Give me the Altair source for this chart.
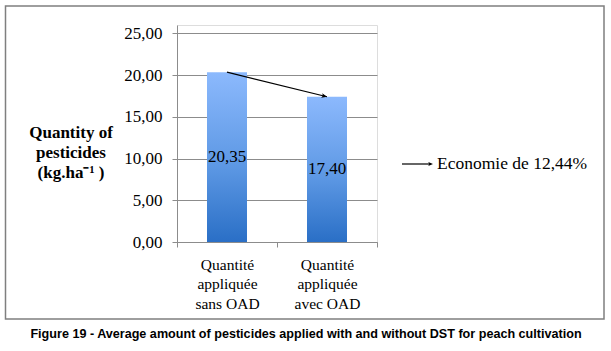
import altair as alt
import pandas as pd

# ---- data ----
categories = ["Quantité|appliquée|sans OAD", "Quantité|appliquée|avec OAD"]
values = [20.35, 17.40]
value_labels = ["20,35", "17,40"]
y_ticks = [0, 5, 10, 15, 20, 25]
y_title = ["Quantity of", "pesticides", "(kg.ha⁻¹ )"]
annotation = "Economie de 12,44%"
caption = "Figure 19 - Average amount of pesticides applied with and without DST for peach cultivation"

SERIF = "Liberation Serif"
SANS = "Liberation Sans"

df = pd.DataFrame({"cat": categories, "value": values, "label": value_labels})
df["mid"] = df["value"] / 2
arrow_df = pd.DataFrame({"x1": [categories[0]], "y1": [values[0]],
                         "x2": [categories[1]], "y2": [values[1]]})
one = alt.Data(values=[{"a": 1}])

xsc = alt.Scale(domain=categories, paddingInner=0, paddingOuter=0)
ysc = alt.Scale(domain=[0, 25])

x_axis = alt.Axis(title=None, labelAngle=0, labelExpr="split(datum.label, '|')",
                  labelFont=SERIF, labelFontSize=15.5, labelColor="black",
                  labelLineHeight=19.5, labelPadding=10, tickBand="extent",
                  tickSize=5, tickColor="#8c8c8c", domainColor="#8c8c8c", grid=False)
y_axis = alt.Axis(title=None, values=y_ticks,
                  labelExpr="replace(format(datum.value, '.2f'), '.', ',')",
                  labelFont=SERIF, labelFontSize=17, labelColor="black",
                  labelPadding=10, tickSize=5, tickColor="#8c8c8c",
                  domainColor="#8c8c8c", gridColor="#8c8c8c", grid=True)

grad = alt.Gradient(gradient="linear",
                    stops=[alt.GradientStop(color="#8cb9fd", offset=0),
                           alt.GradientStop(color="#5d98e4", offset=0.55),
                           alt.GradientStop(color="#2a6fc6", offset=1)],
                    x1=0, x2=0, y1=0, y2=1)

bars = alt.Chart(df).mark_bar(size=40, color=grad).encode(
    x=alt.X("cat:N", scale=xsc, axis=x_axis, sort=categories),
    y=alt.Y("value:Q", scale=ysc, axis=y_axis),
)

labels = alt.Chart(df).mark_text(font=SERIF, fontSize=17, color="black",
                                 baseline="middle").encode(
    x=alt.X("cat:N", sort=categories), y="mid:Q", text="label:N")

arrow_line = alt.Chart(arrow_df).mark_rule(color="black", strokeWidth=1.2).encode(
    x=alt.X("x1:N", sort=categories), x2="x2:N", y="y1:Q", y2="y2:Q")

head_shape = "M0,0 L-1,-0.42 L-0.78,0 L-1,0.42 Z"
arrow_head = alt.Chart(arrow_df).mark_point(shape=head_shape, filled=True, size=120,
                                            color="black", opacity=1, angle=14.4).encode(
    x=alt.X("x2:N", sort=categories), y="y2:Q")

ytitle = alt.Chart(one).mark_text(text=y_title, font=SERIF, fontSize=17, fontWeight="bold",
                                  color="black", align="center", baseline="middle",
                                  lineHeight=20).encode(
    x=alt.value(-106), y=alt.value(108))

eco_line = alt.Chart(one).mark_rule(color="black", strokeWidth=1.2).encode(
    x=alt.value(225), x2=alt.value(253), y=alt.value(139))
eco_head = alt.Chart(one).mark_point(shape=head_shape, filled=True, size=90, color="black",
                                     opacity=1).encode(x=alt.value(256), y=alt.value(139))
eco_text = alt.Chart(one).mark_text(text=annotation, font=SERIF, fontSize=17.5, color="black",
                                    align="left", baseline="middle").encode(
    x=alt.value(260), y=alt.value(139))

frame = alt.Chart(one).mark_rect(fill="transparent", stroke="#7f7f7f", strokeWidth=1.5).encode(
    x=alt.value(-171.5), x2=alt.value(427), y=alt.value(-19), y2=alt.value(294))

cap = alt.Chart(one).mark_text(text=caption, font=SANS, fontSize=12.6, fontWeight="bold",
                               color="black", align="center", baseline="middle").encode(
    x=alt.value(129), y=alt.value(309))

chart = alt.layer(bars, labels, arrow_line, arrow_head, ytitle, eco_line, eco_head,
                  eco_text, frame, cap).properties(
    width=200, height=217,
    autosize=alt.AutoSizeParams(type="none"),
    padding={"left": 177, "top": 25, "right": 234, "bottom": 109},
).configure_view(stroke=None).configure(background="white")

chart.save("out.html", embed_options={"renderer": "svg", "actions": False})
